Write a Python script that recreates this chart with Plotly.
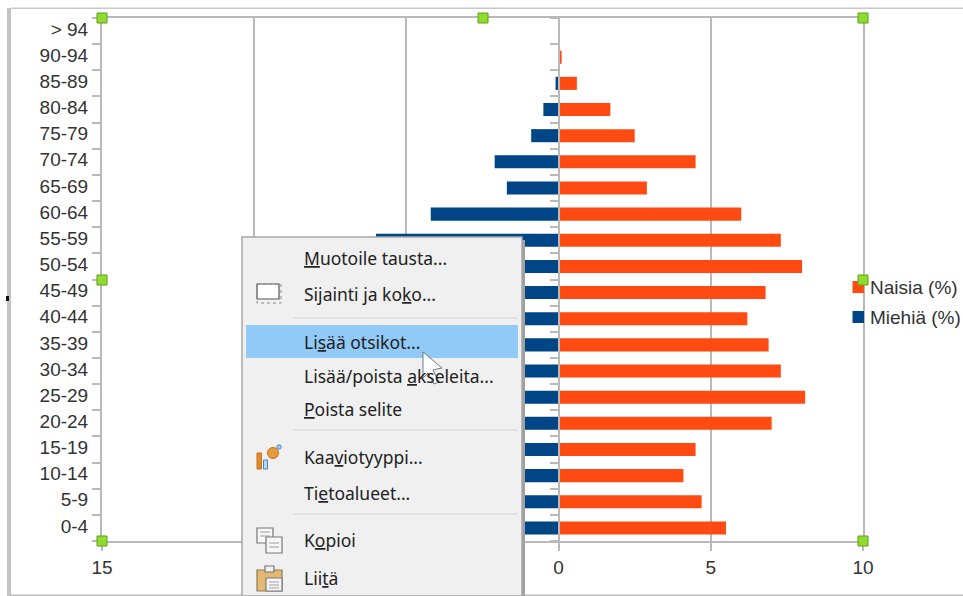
import plotly.graph_objects as go

categories = ["0-4","5-9","10-14","15-19","20-24","25-29","30-34","35-39","40-44","45-49",
              "50-54","55-59","60-64","65-69","70-74","75-79","80-84","85-89","90-94","> 94"]
women = [5.5,4.7,4.1,4.5,7.0,8.1,7.3,6.9,6.2,6.8,8.0,7.3,6.0,2.9,4.5,2.5,1.7,0.6,0.1,0.0]
men = [-5.0,-4.5,-4.0,-4.5,-6.5,-7.5,-6.5,-6.0,-6.0,-6.5,-6.5,-6.0,-4.2,-1.7,-2.1,-0.9,-0.5,-0.1,0.0,0.0]
women_name = "Naisia (%)"
men_name = "Miehiä (%)"
x_ticks = [-15,-10,-5,0,5,10]
x_labels = ["15","10","5","0","5","10"]
menu_items = [
    ("<u>M</u>uotoile tausta...", 258),
    ("Sijainti ja ko<u>k</u>o...", 294),
    ("Li<u>s</u>ää otsikot...", 342),
    ("Lisää/poista <u>a</u>kseleita...", 376),
    ("<u>P</u>oista selite", 409),
    ("Kaa<u>v</u>iotyyppi...", 457),
    ("Ti<u>e</u>toalueet...", 493),
    ("K<u>o</u>pioi", 540),
    ("Lii<u>t</u>ä", 578),
]

L, R, T, B = 102, 863, 18, 541
W, H = 963, 596
GRID = "#b9b9b9"
FONT = "Liberation Sans"
TXT = "#333333"
ORANGE = "#ff4a12"
BLUE = "#004586"

def X(p): return (p - L) / (R - L)
def Y(p): return 1 - (p - T) / (B - T)

fig = go.Figure()
fig.add_bar(x=women, y=categories, orientation="h", name=women_name,
            marker=dict(color=ORANGE, line_width=0), yaxis="y", xaxis="x")
fig.add_bar(x=men, y=categories, orientation="h", name=men_name,
            marker=dict(color=BLUE, line_width=0), yaxis="y2", xaxis="x")

shapes = []
ann = []
def rect(x0, y0, x1, y1, fill=None, line=None, lw=1, dash=None, layer="above"):
    shapes.append(dict(type="rect", xref="paper", yref="paper", x0=X(x0), x1=X(x1), y0=Y(y0), y1=Y(y1),
                       fillcolor=fill or "rgba(0,0,0,0)", layer=layer,
                       line=dict(color=line or "rgba(0,0,0,0)", width=lw if line else 0, dash=dash or "solid")))
def path(pts, fill=None, line=None, lw=1):
    d = "M" + " L".join(f"{X(a):.5f},{Y(b):.5f}" for a, b in pts) + " Z"
    shapes.append(dict(type="path", xref="paper", yref="paper", path=d, layer="above",
                       fillcolor=fill or "rgba(0,0,0,0)", line=dict(color=line or "rgba(0,0,0,0)", width=lw if line else 0)))
def circle(cx, cy, r, fill, line=None, lw=1):
    shapes.append(dict(type="circle", xref="paper", yref="paper", x0=X(cx-r), x1=X(cx+r), y0=Y(cy-r), y1=Y(cy+r),
                       layer="above", fillcolor=fill, line=dict(color=line or fill, width=lw)))
def label(text, px, py, family, size, color):
    ann.append(dict(text=text, xref="paper", yref="paper", x=X(px), y=Y(py), xanchor="left", yanchor="middle",
                    showarrow=False, align="left", borderpad=0,
                    font=dict(family=family, size=size, color=color)))

# page edges
rect(7, 8, 11, 596, fill="#c4c4c4")
rect(11, 7.5, 963, 9, fill="#c8c8c8")
rect(11, 594.5, 963, 596, fill="#bdbdbd")
rect(6, 296, 9, 301, fill="#111111")

# legend
rect(852.5, 281, 864, 293, fill=ORANGE)
rect(852.5, 311, 864, 323, fill=BLUE)
label(women_name, 869, 287, FONT, 19, TXT)
label(men_name, 869, 317, FONT, 19, TXT)

# selection handles
for hx, hy in [(L,T),(483,T),(R,T),(L,280),(R,280),(L,B),(R,B)]:
    rect(hx-5, hy-5, hx+5, hy+5, fill="#8fdc2e", line="#5f9e1e", lw=1)

# context menu
rect(522, 240, 525, 596, fill="#a0a0a0")
rect(242, 237, 522, 596, fill="#f0f0f0", line="#a6a6a6", lw=1.5)
rect(246, 325, 518, 358, fill="#91c9f7")
for sy in (318, 430, 514):
    rect(293, sy-0.5, 518, sy+0.5, fill="#d4d4d4")

# icon: position and size
rect(257, 284, 279, 299, fill="#ffffff", line="#555555", lw=1.2)
rect(257, 284, 281, 303, line="#8a8a8a", lw=1, dash="dot")
# icon: chart type
rect(257, 453, 261.5, 469, fill="#e08a2c", line="#c9701d")
rect(263.5, 460, 267.5, 469, fill="#bcd7ee", line="#4a86c0")
circle(273, 453, 5.5, "#e6993f", "#c9701d")
circle(279, 447, 2.2, "#a8cdea", "#4a86c0")
# icon: copy
rect(257, 528, 273, 543, fill="#f7f7f7", line="#777777", lw=1.2)
rect(266, 537, 282, 553, fill="#f7f7f7", line="#777777", lw=1.2)
for ly, a, b in [(532,260,270),(536,260,270),(543,269,279),(547,269,279)]:
    rect(a, ly-0.4, b, ly+0.4, fill="#888888")
# icon: paste
rect(257, 570, 282, 591, fill="#e6b973", line="#8b7a5c", lw=1.2)
rect(266, 578, 282, 591, fill="#f7f7f7", line="#777777", lw=1.2)
rect(265, 566, 274, 572, fill="#f0f0f0", line="#777777", lw=1.2)
for ly in (582, 585, 588):
    rect(269, ly-0.4, 279, ly+0.4, fill="#888888")

for text, py in menu_items:
    label(text, 303, py, "Noto Sans", 17.5, "#222222")

# cursor
path([(423,352),(442,368),(433,370),(439,382),(434,384),(428,373),(423,378)],
     fill="#ffffff", line="#6c7a88", lw=1)

fig.update_layout(
    width=W, height=H, autosize=False,
    margin=dict(l=L, r=W-R, t=T, b=H-B, pad=0, autoexpand=False),
    paper_bgcolor="#ffffff", plot_bgcolor="#ffffff",
    font=dict(family=FONT, size=19, color=TXT),
    barmode="overlay", bargap=0.5, showlegend=False,
    xaxis=dict(range=[-15,10], tickmode="array", tickvals=x_ticks, ticktext=x_labels,
               showgrid=True, gridcolor=GRID, gridwidth=2, zeroline=False,
               showline=True, linecolor=GRID, linewidth=2, mirror=True,
               ticks="outside", ticklen=8, tickcolor=GRID, tickwidth=1.5,
               tickfont=dict(family=FONT, size=19, color=TXT), fixedrange=True),
    yaxis=dict(type="category", categoryorder="array", categoryarray=categories, range=[-0.5,19.5],
               tickson="boundaries", ticks="outside", ticklen=8, tickcolor=GRID, tickwidth=1.5,
               showgrid=False, zeroline=False, showline=True, linecolor=GRID, linewidth=2, mirror=True,
               tickfont=dict(family=FONT, size=19, color=TXT), ticklabelstandoff=8, ticklabelshift=-2,
               fixedrange=True),
    yaxis2=dict(type="category", categoryorder="array", categoryarray=categories, range=[-0.5,19.5],
                overlaying="y", anchor="free", position=(559-L)/(R-L), side="left",
                tickson="boundaries", ticks="outside", ticklen=8, tickcolor=GRID, tickwidth=1.5,
                showticklabels=False, showgrid=False, zeroline=False,
                showline=True, linecolor=GRID, linewidth=2, fixedrange=True),
    shapes=shapes, annotations=ann,
)

fig.write_html("out.html", config={"displayModeBar": False},
               post_script="document.body.style.margin='0';")
